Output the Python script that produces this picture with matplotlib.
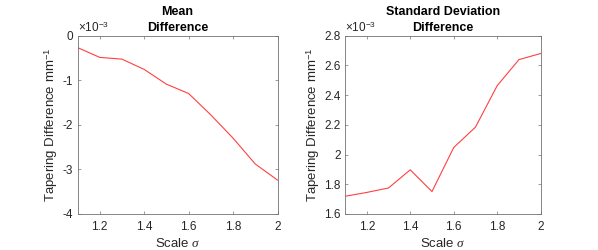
import matplotlib
matplotlib.use("Agg")
import matplotlib.pyplot as plt

plt.rcParams['font.family'] = ['Liberation Sans', 'DejaVu Sans']
plt.rcParams['mathtext.fontset'] = 'custom'
plt.rcParams['mathtext.rm'] = 'Liberation Sans'
plt.rcParams['mathtext.it'] = 'Liberation Serif:italic'

scales = [1.1, 1.2, 1.3, 1.4, 1.5, 1.6, 1.7, 1.8, 1.9, 2.0]
mean_diff = [-0.27, -0.49, -0.53, -0.76, -1.09, -1.30, -1.78, -2.30, -2.88, -3.24]  # x1e-3
std_diff = [1.719, 1.745, 1.775, 1.897, 1.751, 2.047, 2.184, 2.463, 2.638, 2.679]  # x1e-3

mean_yticks = [-4, -3, -2, -1, 0]
mean_yticklabels = ['-4', '-3', '-2', '-1', '0']
std_yticks = [1.6, 1.8, 2.0, 2.2, 2.4, 2.6, 2.8]
std_yticklabels = ['1.6', '1.8', '2', '2.2', '2.4', '2.6', '2.8']
xticks = [1.2, 1.4, 1.6, 1.8, 2.0]
xticklabels = ['1.2', '1.4', '1.6', '1.8', '2']

W, H = 598, 250
fig = plt.figure(figsize=(W / 100, H / 100), dpi=100)

gray = (0.15, 0.15, 0.15)
axcol = (0.45, 0.45, 0.45)

def make_ax(rect_px, y, yticks, yticklabels, ylim, title):
    l, t, r, b = rect_px
    ax = fig.add_axes([l / W, 1 - b / H, (r - l) / W, (b - t) / H])
    ax.plot(scales, y, color=(1.0, 0.25, 0.25), lw=0.8)
    ax.set_xlim(1.1, 2.0)
    ax.set_ylim(*ylim)
    ax.set_xticks(xticks)
    ax.set_xticklabels(xticklabels)
    ax.set_yticks(yticks)
    ax.set_yticklabels(yticklabels)
    ax.tick_params(direction='in', length=2.5, width=0.5, colors=axcol,
                   labelcolor=gray, labelsize=8.5, top=True, right=True,
                   labeltop=False, labelright=False, pad=3)
    ax.tick_params(axis='x', pad=5)
    for s in ax.spines.values():
        s.set_color(axcol)
        s.set_linewidth(0.6)
    ax.set_xlabel(r'Scale $\sigma$', fontsize=9.5, color=gray, labelpad=3)
    ax.set_ylabel(r'Tapering Difference mm$^{-1}$', fontsize=9.5, color=gray, labelpad=2)
    ax.set_title(title, fontsize=9, fontweight='bold', color='black', pad=3,
                 linespacing=1.5)
    ax.text(0.0, 1.005, r'$\times$10$^{-3}$', transform=ax.transAxes,
            fontsize=8.5, color=gray, ha='left', va='bottom')
    return ax

make_ax((77.5, 35.5, 277.5, 214), mean_diff, mean_yticks, mean_yticklabels,
        (-4, 0), 'Mean\nDifference')
make_ax((345, 35.5, 540.7, 214), std_diff, std_yticks, std_yticklabels,
        (1.6, 2.8), 'Standard Deviation\nDifference')

fig.savefig('out.png', dpi=100)
